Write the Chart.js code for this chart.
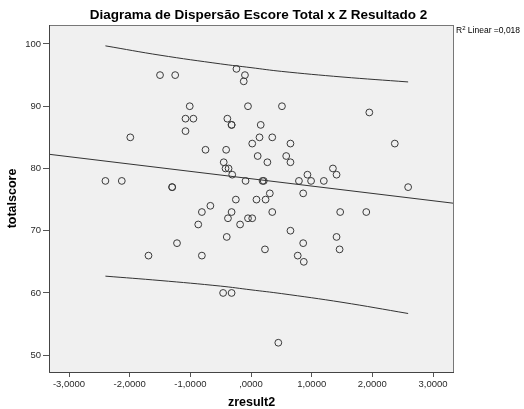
<!DOCTYPE html>
<html>
<head>
<meta charset="utf-8">
<script src="https://cdn.jsdelivr.net/npm/chart.js@4.4.0/dist/chart.umd.min.js"></script>
<style>
  html, body { margin: 0; padding: 0; background: #fff; }
  #wrap { width: 524px; height: 409px; }
</style>
</head>
<body>
<div id="wrap"><canvas id="myChart" width="524" height="409"></canvas></div>
<script>
'use strict';
// zresult2 / totalscore pairs
const zresult = [
  -1.50, -1.25, -0.24, -0.10, -0.12, -1.01, -0.05, 0.51, 1.95,
  -1.08, -0.95, -0.39, -0.32, -0.32, 0.16, -1.08, -1.99, 0.14, 0.35,
  0.02, 0.65, 2.37, -0.75, -0.41, 0.11, 0.58, -0.45, 0.27, 0.65,
  -0.42, -0.37, 1.35, -0.31, 0.93, 1.41, -2.40, -2.13, -0.09, 0.19,
  0.21, 0.79, 0.99, 1.20, -1.30, -1.30, 2.59, 0.31, 0.86, -0.25,
  0.09, 0.24, -0.67, -0.81, -0.32, 0.35, 1.47, 1.90, -0.38, -0.05,
  0.02, -0.87, -0.18, 0.65, -0.40, 1.41, -1.22, 0.86, 0.23, 1.46,
  -1.69, -0.81, 0.77, 0.87, -0.46, -0.32, 0.45
];
const totalscore = [
  95, 95, 96, 95, 94, 90, 90, 90, 89,
  88, 88, 88, 87, 87, 87, 86, 85, 85, 85,
  84, 84, 84, 83, 83, 82, 82, 81, 81, 81,
  80, 80, 80, 79, 79, 79, 78, 78, 78, 78,
  78, 78, 78, 78, 77, 77, 77, 76, 76, 75,
  75, 75, 74, 73, 73, 73, 73, 73, 72, 72,
  72, 71, 71, 70, 69, 69, 68, 68, 67, 67,
  66, 66, 66, 65, 60, 60, 52
];

// fit line and individual prediction interval
const fitX = [-3.33, 3.35];
const fitY = [82.28, 74.40];
const bandX = [-2.40, -1.50, -0.50, 0.00, 0.50, 1.50, 2.59];
const bandUpper = [99.7, 98.2, 96.8, 96.2, 95.6, 94.7, 93.9];
const bandLower = [62.7, 62.0, 61.1, 60.5, 59.9, 58.5, 56.7];

const xTicks = [-3, -2, -1, 0, 1, 2, 3];
const xTickLabels = ['-3,0000', '-2,0000', '-1,0000', ',0000', '1,0000', '2,0000', '3,0000'];
const yTicks = [50, 60, 70, 80, 90, 100];

const titleText = 'Diagrama de Dispersão Escore Total x Z Resultado 2';
const r2Text = ' Linear =0,018';

const FONT = '"Liberation Sans", Arial, sans-serif';
const lineColor = '#333';

function pairs(xs, ys) {
  return xs.map((x, i) => ({ x: x, y: ys[i] }));
}

const spssFrame = {
  id: 'spssFrame',
  beforeDraw(chart) {
    const c = chart.ctx, a = chart.chartArea;
    c.save();
    c.fillStyle = '#fff';
    c.fillRect(0, 0, chart.width, chart.height);
    c.fillStyle = '#f0f0f0';
    c.fillRect(a.left, a.top, a.right - a.left, a.bottom - a.top);
    c.restore();
  },
  afterDraw(chart) {
    const c = chart.ctx, a = chart.chartArea;
    c.save();
    c.strokeStyle = '#777';
    c.lineWidth = 1;
    c.strokeRect(a.left + 0.5, a.top + 0.5, a.right - a.left - 1, a.bottom - a.top);
    c.strokeStyle = '#444';
    c.beginPath();
    c.moveTo(a.left + 0.5, a.top);
    c.lineTo(a.left + 0.5, a.bottom + 0.5);
    c.lineTo(a.right, a.bottom + 0.5);
    c.stroke();

    c.fillStyle = '#000';
    c.textAlign = 'center';
    c.textBaseline = 'alphabetic';
    c.font = 'bold 13.5px ' + FONT;
    c.fillText(titleText, 258.5, 19);

    c.textAlign = 'left';
    c.font = '8.5px ' + FONT;
    c.fillText('R', a.right + 2, 32.5);
    const rw = c.measureText('R').width;
    c.font = '6px ' + FONT;
    c.fillText('2', a.right + 2 + rw, 29.5);
    const tw = c.measureText('2').width;
    c.font = '8.5px ' + FONT;
    c.fillText(r2Text, a.right + 2 + rw + tw, 32.5);
    c.restore();
  }
};

const ctx = document.getElementById('myChart').getContext('2d');
const myChart = new Chart(ctx, {
  type: 'scatter',
  data: {
    datasets: [
      {
        type: 'line',
        data: pairs(fitX, fitY),
        borderColor: lineColor,
        borderWidth: 1,
        pointRadius: 0,
        fill: false
      },
      {
        type: 'line',
        data: pairs(bandX, bandUpper),
        borderColor: lineColor,
        borderWidth: 1,
        pointRadius: 0,
        tension: 0.4,
        fill: false
      },
      {
        type: 'line',
        data: pairs(bandX, bandLower),
        borderColor: lineColor,
        borderWidth: 1,
        pointRadius: 0,
        tension: 0.4,
        fill: false
      },
      {
        data: pairs(zresult, totalscore),
        pointStyle: 'circle',
        pointRadius: 3.4,
        borderColor: '#3a3a3a',
        borderWidth: 1,
        backgroundColor: 'rgba(0,0,0,0)'
      }
    ]
  },
  options: {
    responsive: false,
    animation: false,
    layout: { padding: { top: 25, right: 70, left: 0, bottom: 0 } },
    plugins: {
      legend: { display: false },
      tooltip: { enabled: false },
      title: { display: false }
    },
    scales: {
      x: {
        type: 'linear',
        min: -3.33,
        max: 3.346,
        afterBuildTicks: (scale) => { scale.ticks = xTicks.map(v => ({ value: v })); },
        afterFit: (scale) => { scale.height = 37; },
        grid: { drawOnChartArea: false, drawTicks: true, tickLength: 5, color: '#555' },
        border: { display: false },
        ticks: {
          color: '#2a2a2a',
          padding: 2,
          maxRotation: 0,
          font: { family: FONT, size: 9.5 },
          callback: (v) => xTickLabels[xTicks.indexOf(v)]
        },
        title: {
          display: true,
          text: 'zresult2',
          color: '#000',
          padding: 0,
          font: { family: FONT, size: 12.5, weight: 'bold', lineHeight: 1 }
        }
      },
      y: {
        type: 'linear',
        min: 47.3,
        max: 103.05,
        afterBuildTicks: (scale) => { scale.ticks = yTicks.map(v => ({ value: v })); },
        afterFit: (scale) => { scale.width = 49; },
        grid: { drawOnChartArea: false, drawTicks: true, tickLength: 6, color: '#555' },
        border: { display: false },
        ticks: {
          color: '#2a2a2a',
          padding: 2,
          font: { family: FONT, size: 9.5 }
        },
        title: {
          display: true,
          text: 'totalscore',
          color: '#000',
          padding: { top: 6, bottom: 0 },
          font: { family: FONT, size: 12.5, weight: 'bold', lineHeight: 1 }
        }
      }
    }
  },
  plugins: [spssFrame]
});
</script>
</body>
</html>
